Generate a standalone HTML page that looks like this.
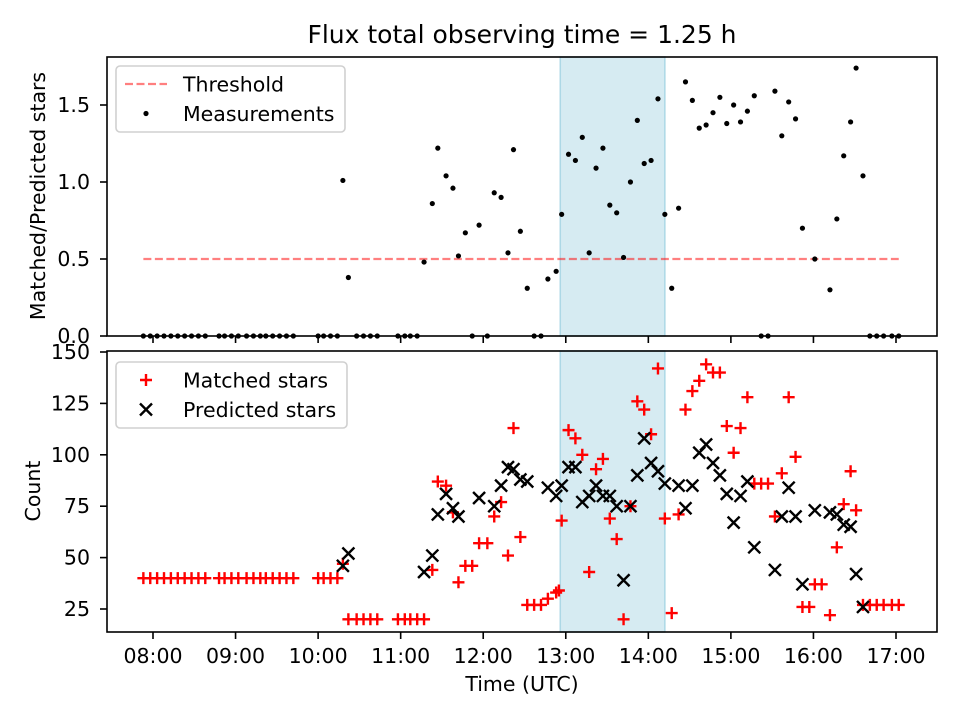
<!DOCTYPE html>
<html><head><meta charset="utf-8"><style>
html,body{margin:0;padding:0;background:#fff;}
svg{display:block;font-family:"DejaVu Sans","Liberation Sans",sans-serif;}
</style></head><body>
<svg id="fig" width="960" height="720" viewBox="0 0 960 720" xmlns="http://www.w3.org/2000/svg">
<rect width="960" height="720" fill="#fff"/>
<text x="522" y="43" font-size="25" text-anchor="middle">Flux total observing time = 1.25 h</text>
<g id="topAx"></g>
<g id="botAx"></g>
<text transform="translate(45,196) rotate(-90)" font-size="20.5" text-anchor="middle">Matched/Predicted stars</text>
<text transform="translate(40,491) rotate(-90)" font-size="20.5" text-anchor="middle">Count</text>
<text x="522" y="691" font-size="20.5" text-anchor="middle">Time (UTC)</text>
</svg>
<script>
// minutes since 08:00
const ratioTimes = [-7,-2,3,8,13,18,23,28,33,38,48,52,57,62,68,73,78,82,87,92,97,102,120,124,129,134,138,142,148,153,158,163,178,183,187,192,197,203,207,213,218,222,227,232,237,243,248,253,258,262,267,272,277,282,287,293,297,302,307,312,317,322,327,332,337,342,347,352,357,362,367,372,377,382,387,392,397,402,407,412,417,422,427,432,437,442,447,452,457,462,467,472,481,492,497,502,507,511,516,521,526,531,537,542];
const ratioValues = [0,0,0,0,0,0,0,0,0,0,0,0,0,0,0,0,0,0,0,0,0,0,0,0,0,0,1.01,0.38,0,0,0,0,0,0,0,0,0.48,0.86,1.22,1.04,0.96,0.52,0.67,0,0.72,0,0.93,0.90,0.54,1.21,0.68,0.31,0,0,0.37,0.42,0.79,1.18,1.14,1.29,0.54,1.09,1.22,0.85,0.80,0.51,1.00,1.40,1.12,1.14,1.54,0.79,0.31,0.83,1.65,1.53,1.35,1.37,1.45,1.55,1.38,1.50,1.39,1.46,1.56,0,0,1.59,1.30,1.52,1.41,0.70,0.50,0.30,0.76,1.17,1.39,1.74,1.04,0,0,0,0,0];
const matchedTimes = [-7,-2,3,8,13,18,23,28,33,38,48,52,57,62,68,73,78,82,87,92,97,102,120,124,129,134,138,142,148,153,158,163,178,183,187,192,197,203,207,213,218,222,227,232,237,243,248,253,258,262,267,272,277,282,287,293,295,297,302,307,312,317,322,327,332,337,342,347,352,357,362,367,372,377,382,387,392,397,402,407,412,417,422,427,432,437,442,447,452,457,462,467,472,477,481,486,492,497,502,507,511,516,521,526,531,537,542];
const matchedValues = [40,40,40,40,40,40,40,40,40,40,40,40,40,40,40,40,40,40,40,40,40,40,40,40,40,40,47,20,20,20,20,20,20,20,20,20,20,44,87,85,72,38,46,46,57,57,70,77,51,113,60,27,27,27,30,33,34,68,112,108,100,43,93,98,69,59,20,75,126,122,110,142,69,23,71,122,131,136,144,140,140,114,101,113,128,86,86,86,70,91,128,99,26,26,37,37,22,55,76,92,73,27,27,27,27,27,27];
const predictedTimes = [138,142,197,203,207,213,218,222,237,248,253,258,262,267,272,287,293,297,302,307,312,317,322,327,332,337,342,347,352,357,362,367,372,382,387,392,397,402,407,412,417,422,427,432,437,452,457,462,467,472,481,492,497,502,507,511,516];
const predictedValues = [46,52,43,51,71,81,74,70,79,75,85,94,93,88,87,84,80,85,94,94,77,80,85,80,80,75,39,75,90,108,96,92,86,85,74,85,101,105,96,90,81,67,80,87,55,44,70,84,70,37,73,72,71,66,65,42,26];
const xTickMinutes = [0,60,120,180,240,300,360,420,480,540];
const xTickLabels = ["08:00","09:00","10:00","11:00","12:00","13:00","14:00","15:00","16:00","17:00"];
const ratioTicks = [0,0.5,1.0,1.5];
const ratioTickLabels = ["0.0","0.5","1.0","1.5"];
const countTicks = [25,50,75,100,125,150];
const countTickLabels = ["25","50","75","100","125","150"];
const threshold = 0.5;
const shadeSpan = [296,372];

const NS="http://www.w3.org/2000/svg";
const L=107,R=937;
const xs=m=>153+(m)*(896-153)/540;
const T1=57,B1=336, T2=351,B2=632;
const ys1=v=>336-v*(336-105)/1.5;
const ys2=v=>609-(v-25)*(609-352)/125;
const FS=20.5;
function mk(p,tag,a){const e=document.createElementNS(NS,tag);for(const k in a)e.setAttribute(k,a[k]);p.appendChild(e);return e;}
const topG=document.getElementById('topAx'), botG=document.getElementById('botAx');

function frame(g,t,b,ticks,labels,ys,showX){
  const sh=mk(g,'rect',{x:xs(shadeSpan[0]),y:t,width:xs(shadeSpan[1])-xs(shadeSpan[0]),height:b-t,fill:'#add8e6','fill-opacity':0.5,stroke:'#add8e6','stroke-width':1.5});
  
  
  xTickMinutes.forEach((m,i)=>{
    const tk=mk(g,'line',{x1:xs(m),x2:xs(m),y1:b,y2:b+7,stroke:'#000','stroke-width':1.6});
    
    
    if(showX){const tx=mk(g,'text',{x:xs(m),y:663,'font-size':FS,'text-anchor':'middle'});tx.textContent=xTickLabels[i];
      
      }
  });
  ticks.forEach((v,i)=>{
    const tk=mk(g,'line',{x1:L-7,x2:L,y1:ys(v),y2:ys(v),stroke:'#000','stroke-width':1.6});
    
    
    const tx=mk(g,'text',{x:90,y:ys(v)+7,'font-size':FS,'text-anchor':'end'});tx.textContent=labels[i];
    
    
  });
}
frame(topG,T1,B1,ratioTicks,ratioTickLabels,ys1,false);
frame(botG,T2,B2,countTicks,countTickLabels,ys2,true);

const th=mk(topG,'line',{x1:xs(ratioTimes[0]),x2:xs(ratioTimes[ratioTimes.length-1]),y1:ys1(threshold),y2:ys1(threshold),stroke:'#ff0000','stroke-opacity':0.5,'stroke-width':2.2,'stroke-dasharray':'8,3.5'});


ratioTimes.forEach((m,i)=>{
  const c=mk(topG,'circle',{cx:xs(m),cy:ys1(ratioValues[i]),r:2.6,fill:'#000'});
  
  
});
const A=6;
function plus(g,x,y){return mk(g,'path',{d:`M${x-A},${y}H${x+A}M${x},${y-A}V${y+A}`,stroke:'#ff0000','stroke-width':2.4,fill:'none'});}
function cross(g,x,y){return mk(g,'path',{d:`M${x-A},${y-A}L${x+A},${y+A}M${x-A},${y+A}L${x+A},${y-A}`,stroke:'#000','stroke-width':2.4,fill:'none'});}
matchedTimes.forEach((m,i)=>{
  const p=plus(botG,xs(m),ys2(matchedValues[i]));
  
  
});
predictedTimes.forEach((m,i)=>{
  const p=cross(botG,xs(m),ys2(predictedValues[i]));
  
  
});
[[topG,T1,B1],[botG,T2,B2]].forEach(([g,t,b])=>{
  const f=mk(g,'rect',{x:L,y:t,width:R-L,height:b-t,fill:'none',stroke:'#000','stroke-width':1.6});
  
  
});
function legend(g,y0,w,items){
  const lg=mk(g,'g',{});
  
  
  mk(lg,'rect',{x:116,y:y0,width:w,height:66,rx:4,fill:'#fff','fill-opacity':0.8,stroke:'#d0d0d0','stroke-width':1.6});
  items.forEach((it,i)=>{
    const cy=y0+18+i*29.5;
    const e=mk(lg,'g',{});
    
    
    it.draw(e,146,cy);
    const tx=mk(e,'text',{x:183,y:cy+7.5,'font-size':FS});tx.textContent=it.label;
  });
}
legend(topG,66,229,[
  {label:'Threshold',draw:(g,x,y)=>mk(g,'line',{x1:125,x2:167,y1:y,y2:y,stroke:'#ff0000','stroke-opacity':0.5,'stroke-width':2.2,'stroke-dasharray':'8,3.5'})},
  {label:'Measurements',draw:(g,x,y)=>mk(g,'circle',{cx:x,cy:y,r:2.6,fill:'#000'})}
]);
legend(botG,362,231,[
  {label:'Matched stars',draw:(g,x,y)=>plus(g,x,y)},
  {label:'Predicted stars',draw:(g,x,y)=>cross(g,x,y)}
]);
</script>
</body></html>
